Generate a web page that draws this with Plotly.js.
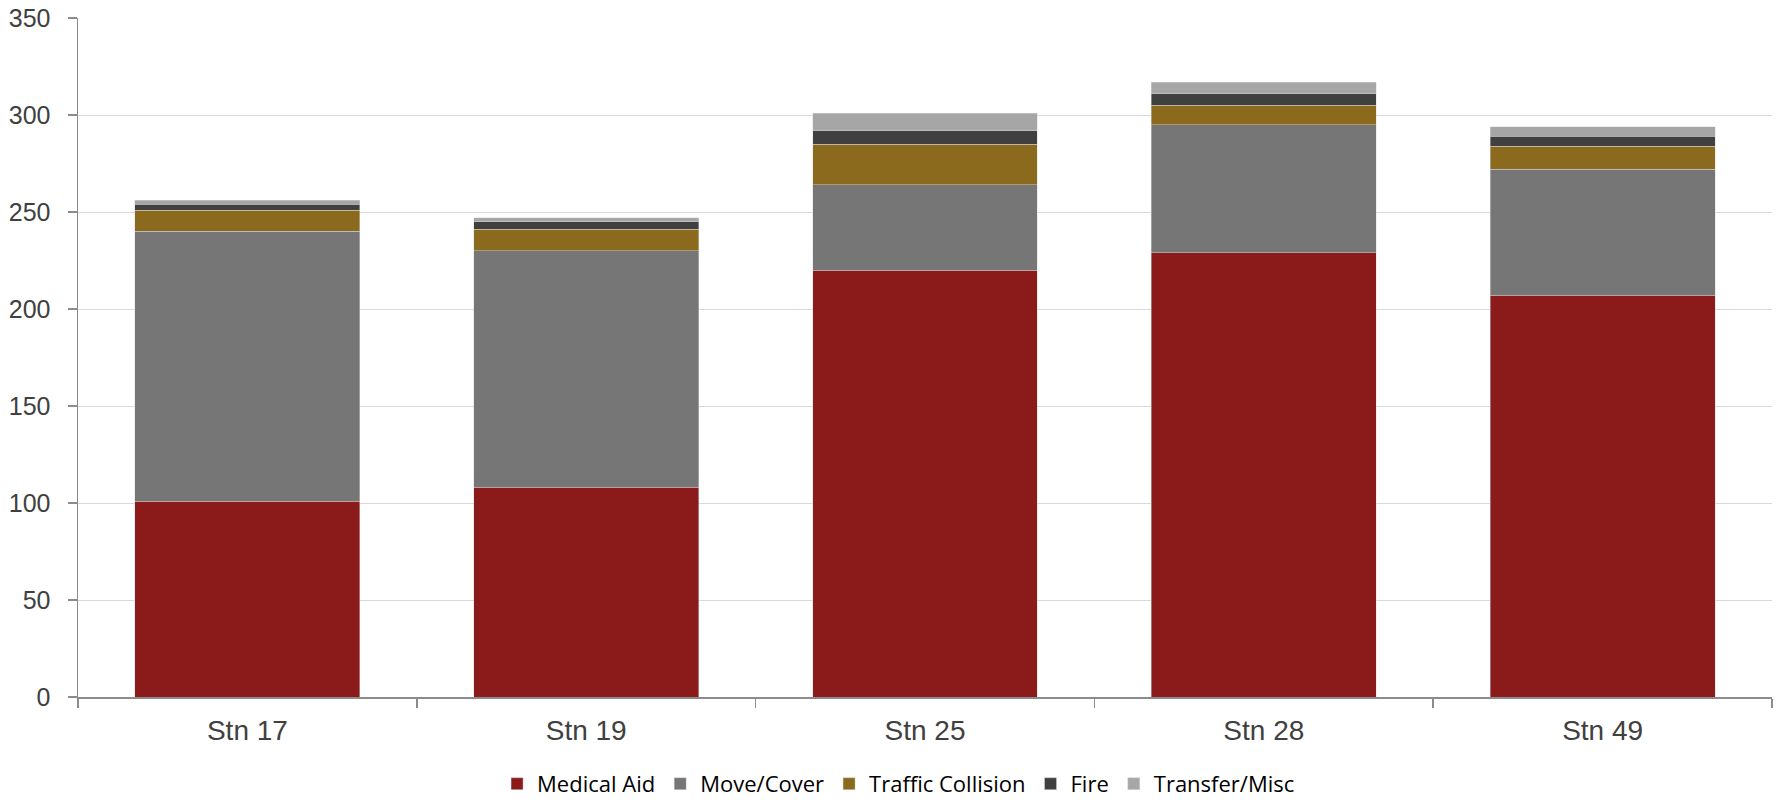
<!DOCTYPE html>
<html>
<head>
<meta charset="utf-8">
<script src="https://cdn.plot.ly/plotly-3.0.1.min.js"></script>
<style>html,body{margin:0;padding:0;background:#fff;}#chart{width:1779px;height:803px;}</style>
</head>
<body>
<div id="chart"></div>
<script>
const stations = ["Stn 17", "Stn 19", "Stn 25", "Stn 28", "Stn 49"];
const medicalAid = [101, 108, 220, 229, 207];
const moveCover = [139, 122, 44, 66, 65];
const trafficCollision = [11, 11, 21, 10, 12];
const fire = [3, 4, 7, 6, 5];
const transferMisc = [2, 2, 9, 6, 5];
const yTicks = [0, 50, 100, 150, 200, 250, 300, 350];

const seriesDefs = [
  {name: "Medical Aid", values: medicalAid, color: "#8B1A1A"},
  {name: "Move/Cover", values: moveCover, color: "#767676"},
  {name: "Traffic Collision", values: trafficCollision, color: "#8B6A1D"},
  {name: "Fire", values: fire, color: "#404040"},
  {name: "Transfer/Misc", values: transferMisc, color: "#A6A6A6"}
];

const traces = seriesDefs.map(s => ({
  type: "bar",
  name: s.name,
  x: stations,
  y: s.values,
  marker: {color: s.color, line: {color: "rgba(217,217,217,0.6)", width: 0.75}},
  hoverinfo: "x+y+name"
}));

const layout = {
  width: 1779,
  height: 803,
  barmode: "stack",
  bargap: 0.336,
  paper_bgcolor: "#ffffff",
  plot_bgcolor: "#ffffff",
  margin: {l: 78, r: 7, t: 17.5, b: 105.7, pad: 0, autoexpand: false},
  font: {family: "Liberation Sans, Arial, sans-serif", color: "#404040"},
  xaxis: {
    type: "category",
    showgrid: false,
    showline: true,
    linecolor: "#8c8c8c",
    linewidth: 1.5,
    ticks: "outside",
    tickson: "boundaries",
    ticklen: 9,
    tickcolor: "#8c8c8c",
    tickwidth: 1.5,
    ticklabelstandoff: 8,
    tickfont: {size: 28, color: "#404040"},
    automargin: false,
    fixedrange: true
  },
  yaxis: {
    range: [0, 350],
    tickvals: yTicks,
    ticktext: yTicks.map(String),
    showgrid: true,
    gridcolor: "#d9d9d9",
    gridwidth: 1,
    zeroline: false,
    showline: true,
    linecolor: "#8c8c8c",
    linewidth: 1.5,
    ticks: "outside",
    ticklen: 9,
    tickcolor: "#8c8c8c",
    tickwidth: 1.5,
    ticklabelstandoff: 12,
    tickfont: {size: 25, color: "#404040"},
    automargin: false,
    fixedrange: true
  },
  showlegend: true,
  legend: {
    orientation: "h",
    x: 0.4844,
    xanchor: "center",
    y: -0.128,
    yanchor: "middle",
    borderwidth: 0,
    font: {family: "Open Sans, Noto Sans, sans-serif", size: 22, color: "#000000"},
    itemwidth: 30,
    traceorder: "normal"
  }
};

Plotly.newPlot("chart", traces, layout, {displayModeBar: false, staticPlot: true});
</script>
</body>
</html>
